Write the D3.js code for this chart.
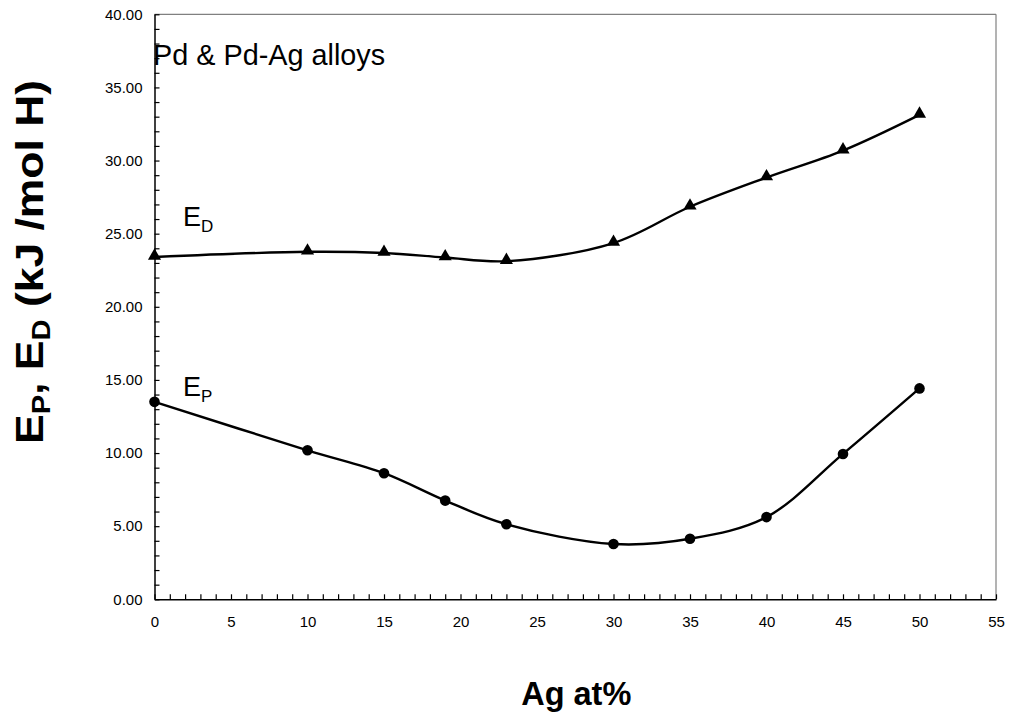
<!DOCTYPE html>
<html>
<head>
<meta charset="utf-8">
<script src="https://cdn.jsdelivr.net/npm/d3@7"></script>
<style>
  html, body { margin: 0; padding: 0; background: #fff; }
  svg { display: block; font-family: Arial, "Liberation Sans", sans-serif; }
</style>
</head>
<body>
<svg id="chart" width="1011" height="719"></svg>
<script>
// Ag content (at%) of the Pd and Pd-Ag alloys
const agContent = [0, 10, 15, 19, 23, 30, 35, 40, 45, 50];
// Activation energies, kJ/mol H
const energyD = [23.41, 23.76, 23.68, 23.37, 23.12, 24.36, 26.84, 28.84, 30.68, 33.12];
const energyP = [13.50, 10.19, 8.62, 6.75, 5.13, 3.78, 4.14, 5.62, 9.94, 14.42];
const xTicks = [0, 5, 10, 15, 20, 25, 30, 35, 40, 45, 50, 55];
const yTicks = [0, 5, 10, 15, 20, 25, 30, 35, 40];

const svg = d3.select("#chart");
const plotLeft = 154.5, plotRight = 996, plotTop = 14.3, plotBottom = 599.3;

const x = d3.scaleLinear().domain([0, 55]).range([plotLeft, plotRight]);
const y = d3.scaleLinear().domain([0, 40]).range([plotBottom, plotTop]);

// frame: grey top/right edges
svg.append("line").attr("x1", plotLeft).attr("x2", plotRight).attr("y1", plotTop).attr("y2", plotTop)
  .attr("stroke", "#808080").attr("stroke-width", 1.2);
svg.append("line").attr("x1", plotRight).attr("x2", plotRight).attr("y1", plotTop).attr("y2", plotBottom)
  .attr("stroke", "#808080").attr("stroke-width", 1.2);

// minor ticks (every 1 unit), pointing inward
const xMinor = d3.range(0, 56, 1).filter(v => v % 5 !== 0);
const yMinor = d3.range(0, 41, 1).filter(v => v % 5 !== 0);

svg.append("g").attr("transform", `translate(0,${plotBottom})`)
  .call(d3.axisBottom(x).tickValues(xTicks).tickFormat(d3.format("d"))
    .tickSizeInner(-5).tickSizeOuter(0).tickPadding(17.5));
svg.append("g").attr("transform", `translate(${plotLeft},0)`)
  .call(d3.axisLeft(y).tickValues(yTicks).tickFormat(d3.format(".2f"))
    .tickSizeInner(-5).tickSizeOuter(0).tickPadding(12));

svg.append("g").attr("transform", `translate(0,${plotBottom})`)
  .call(d3.axisBottom(x).tickValues(xMinor).tickFormat("").tickSizeInner(-5).tickSizeOuter(0))
  .select(".domain").remove();
svg.append("g").attr("transform", `translate(${plotLeft},0)`)
  .call(d3.axisLeft(y).tickValues(yMinor).tickFormat("").tickSizeInner(-5).tickSizeOuter(0))
  .select(".domain").remove();

svg.selectAll(".domain").attr("stroke", "#000").attr("stroke-width", 1.5);
svg.selectAll(".tick line").attr("stroke", "#000").attr("stroke-width", 1.2);
svg.selectAll(".tick text").attr("font-size", 15).attr("fill", "#000")
  .attr("font-family", "Arial, 'Liberation Sans', sans-serif");

// smoothed curves
const line = d3.line().x((d, i) => x(agContent[i])).y(d => y(d)).curve(d3.curveCatmullRom.alpha(0.5));

svg.append("path").datum(energyD).attr("d", line)
  .attr("fill", "none").attr("stroke", "#000").attr("stroke-width", 2.4);
svg.append("path").datum(energyP).attr("d", line)
  .attr("fill", "none").attr("stroke", "#000").attr("stroke-width", 2.4);

// markers
const tri = d3.symbol().type(d3.symbolTriangle).size(75);
svg.append("g").selectAll("path").data(energyD).join("path")
  .attr("d", tri)
  .attr("transform", (d, i) => `translate(${x(agContent[i])},${y(d) - 1})`)
  .attr("fill", "#000");
svg.append("g").selectAll("circle").data(energyP).join("circle")
  .attr("cx", (d, i) => x(agContent[i])).attr("cy", d => y(d)).attr("r", 5.3)
  .attr("fill", "#000");

// in-plot labels
svg.append("text").attr("x", 153).attr("y", 65).attr("font-size", 28.8).attr("fill", "#000")
  .text("Pd & Pd-Ag alloys");

const ed = svg.append("text").attr("x", 183).attr("y", 226).attr("font-size", 27).attr("fill", "#000");
ed.append("tspan").text("E");
ed.append("tspan").attr("font-size", 17).attr("dy", 6).text("D");

const ep = svg.append("text").attr("x", 183).attr("y", 396).attr("font-size", 27).attr("fill", "#000");
ep.append("tspan").text("E");
ep.append("tspan").attr("font-size", 17).attr("dy", 6).text("P");

// axis titles
svg.append("text").attr("x", (plotLeft + plotRight) / 2 + 1).attr("y", 705)
  .attr("text-anchor", "middle").attr("font-size", 32.5).attr("font-weight", "bold").attr("fill", "#000")
  .text("Ag at%");

const yt = svg.append("text")
  .attr("transform", "translate(43,262) rotate(-90)")
  .attr("text-anchor", "middle").attr("font-size", 38).attr("font-weight", "bold").attr("fill", "#000")
  .attr("textLength", 364).attr("lengthAdjust", "spacingAndGlyphs");
yt.append("tspan").text("E");
yt.append("tspan").attr("font-size", 25).attr("dy", 7).text("P");
yt.append("tspan").attr("dy", -7).text(", E");
yt.append("tspan").attr("font-size", 25).attr("dy", 7).text("D");
yt.append("tspan").attr("dy", -7).text(" (kJ /mol H)");
</script>
</body>
</html>
